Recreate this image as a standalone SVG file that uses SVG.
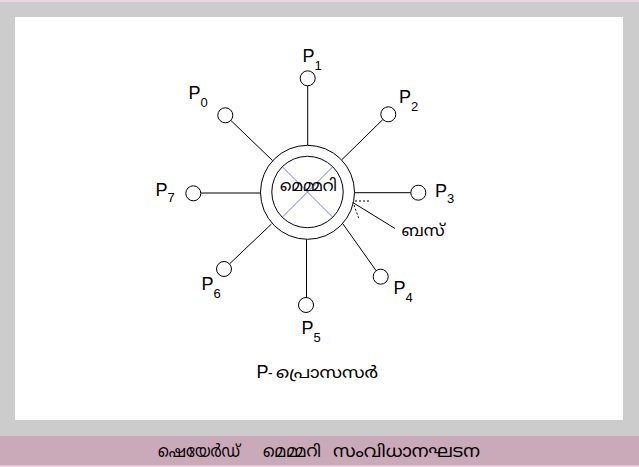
<svg xmlns="http://www.w3.org/2000/svg" width="639" height="467" viewBox="0 0 639 467">
<style>
.ln{stroke:#000;stroke-width:1;fill:none}
.nd{stroke:#000;stroke-width:1;fill:#fff}
.p{font-family:"Liberation Sans",Arial,sans-serif;font-size:18px;fill:#000}
.s{font-family:"Liberation Sans",Arial,sans-serif;font-size:13px;fill:#000}
.ml{font-family:"Noto Sans Malayalam","Noto Sans","DejaVu Sans",sans-serif;fill:#000}
</style>
<rect x="0" y="0" width="639" height="467" fill="#cccccc"/>
<rect x="0" y="0" width="639" height="2" fill="#ecd4e2"/>
<rect x="15" y="17" width="608" height="403" fill="#ffffff"/>
<rect x="0" y="436" width="639" height="30" fill="#caaab9"/>
<rect x="0" y="465.5" width="639" height="1.5" fill="#f2dcea"/>
<g id="connectors">
<line class="ln" x1="307.7" y1="85.8" x2="307.7" y2="145"/>
<line class="ln" x1="230.8" y1="120.4" x2="272.5" y2="160.5"/>
<line class="ln" x1="382.9" y1="119.5" x2="342" y2="159.5"/>
<line class="ln" x1="410.8" y1="192.7" x2="354.5" y2="192.7"/>
<line class="ln" x1="376.2" y1="270.8" x2="343" y2="224"/>
<line class="ln" x1="306.5" y1="297.5" x2="306.5" y2="239.5"/>
<line class="ln" x1="229.5" y1="263.9" x2="271.5" y2="224"/>
<line class="ln" x1="200.8" y1="193" x2="260.7" y2="193"/>
<line class="ln" x1="395" y1="228.5" x2="352.5" y2="202.3"/>
<line class="ln" x1="355" y1="201" x2="371" y2="201" stroke-dasharray="2,2"/>
<line class="ln" x1="354" y1="205" x2="359" y2="219" stroke-dasharray="2,2"/>
</g>
<g id="memory">
<circle class="ln" cx="307.5" cy="192.3" r="47"/>
<circle class="ln" cx="307.5" cy="192" r="35.7"/>
<line x1="282.6" y1="167.1" x2="332.4" y2="216.9" stroke="#7777ee" stroke-width="1"/>
<line x1="332.4" y1="167.1" x2="282.6" y2="216.9" stroke="#7777ee" stroke-width="1"/>
<text class="ml" x="280" y="191" font-size="16" textLength="57" lengthAdjust="spacingAndGlyphs">മെമ്മറി</text>
</g>
<g id="P0"><circle class="nd" cx="225.3" cy="115.3" r="7.5"/><text class="p" x="188.5" y="99">P</text><text class="s" x="200.5" y="107">0</text></g>
<g id="P1"><circle class="nd" cx="307.7" cy="78.3" r="7.5"/><text class="p" x="302.5" y="62">P</text><text class="s" x="314.5" y="70">1</text></g>
<g id="P2"><circle class="nd" cx="388.3" cy="114.3" r="7.5"/><text class="p" x="399" y="103">P</text><text class="s" x="411" y="111">2</text></g>
<g id="P3"><circle class="nd" cx="418.3" cy="192.7" r="7.5"/><text class="p" x="435" y="197">P</text><text class="s" x="447" y="203">3</text></g>
<g id="P4"><circle class="nd" cx="380.7" cy="276.7" r="7.5"/><text class="p" x="393.5" y="294">P</text><text class="s" x="405.5" y="302">4</text></g>
<g id="P5"><circle class="nd" cx="306" cy="305" r="7.5"/><text class="p" x="301.5" y="334">P</text><text class="s" x="313.5" y="342">5</text></g>
<g id="P6"><circle class="nd" cx="224" cy="269" r="7.5"/><text class="p" x="201.5" y="290">P</text><text class="s" x="213.5" y="298">6</text></g>
<g id="P7"><circle class="nd" cx="193.3" cy="193.3" r="7.5"/><text class="p" x="155.5" y="196">P</text><text class="s" x="167.5" y="202">7</text></g>
<g id="bus-label"><text class="ml" x="401.5" y="235.5" font-size="16" textLength="43" lengthAdjust="spacingAndGlyphs">ബസ്</text></g>
<g id="legend"><text class="p" x="256.5" y="377.5">P</text><text class="ml" x="268" y="377.5" font-size="14">-</text><text class="ml" x="276" y="377.5" font-size="16" textLength="102" lengthAdjust="spacingAndGlyphs">പ്രൊസസർ</text></g>
<g id="caption" class="ml" font-size="17"><text x="158" y="457" textLength="82" lengthAdjust="spacingAndGlyphs">ഷെയേർഡ്</text><text x="263" y="457" textLength="58" lengthAdjust="spacingAndGlyphs">മെമ്മറി</text><text x="333" y="457" textLength="147" lengthAdjust="spacingAndGlyphs">സംവിധാനഘടന</text></g>
</svg>
